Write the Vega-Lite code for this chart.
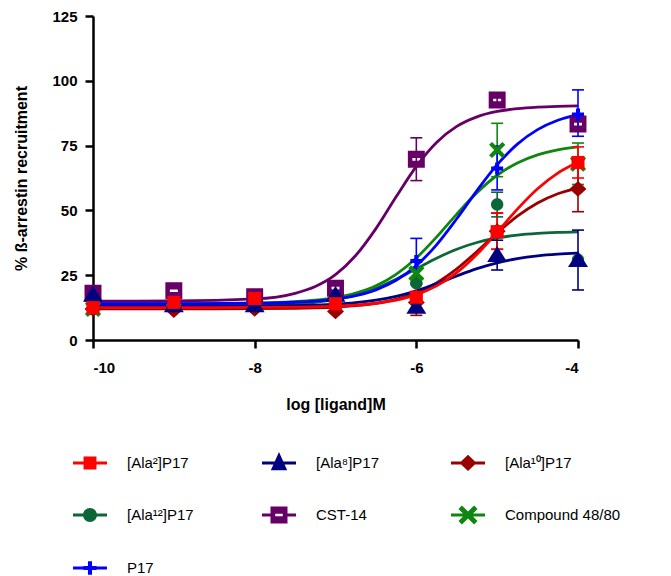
{
  "$schema": "https://vega.github.io/schema/vega-lite/v6.json",
  "width": 485,
  "height": 324,
  "autosize": "none",
  "padding": {"left": 93, "top": 16, "right": 93, "bottom": 236},
  "background": "white",
  "datasets": {
    "curves": [
      {"s": "[Ala¹²]P17", "x": -10, "y": 13.0}, {"s": "[Ala¹²]P17", "x": -9, "y": 13.03}, {"s": "[Ala¹²]P17", "x": -8, "y": 13.29}, {"s": "[Ala¹²]P17", "x": -7.5, "y": 13.89}, {"s": "[Ala¹²]P17", "x": -7.25, "y": 14.54}, {"s": "[Ala¹²]P17", "x": -7, "y": 15.64}, {"s": "[Ala¹²]P17", "x": -6.75, "y": 17.38}, {"s": "[Ala¹²]P17", "x": -6.5, "y": 19.97}, {"s": "[Ala¹²]P17", "x": -6.25, "y": 23.44}, {"s": "[Ala¹²]P17", "x": -6, "y": 27.5}, {"s": "[Ala¹²]P17", "x": -5.75, "y": 31.56}, {"s": "[Ala¹²]P17", "x": -5.5, "y": 35.03}, {"s": "[Ala¹²]P17", "x": -5.25, "y": 37.62}, {"s": "[Ala¹²]P17", "x": -5, "y": 39.36}, {"s": "[Ala¹²]P17", "x": -4.75, "y": 40.46}, {"s": "[Ala¹²]P17", "x": -4.5, "y": 41.11}, {"s": "[Ala¹²]P17", "x": -4.25, "y": 41.49}, {"s": "[Ala¹²]P17", "x": -4, "y": 41.71},
      {"s": "Compound 48/80", "x": -10, "y": 14.0}, {"s": "Compound 48/80", "x": -9, "y": 14.02}, {"s": "Compound 48/80", "x": -8, "y": 14.25}, {"s": "Compound 48/80", "x": -7.5, "y": 14.77}, {"s": "Compound 48/80", "x": -7.25, "y": 15.36}, {"s": "Compound 48/80", "x": -7, "y": 16.37}, {"s": "Compound 48/80", "x": -6.75, "y": 18.1}, {"s": "Compound 48/80", "x": -6.5, "y": 20.93}, {"s": "Compound 48/80", "x": -6.25, "y": 25.34}, {"s": "Compound 48/80", "x": -6, "y": 31.65}, {"s": "Compound 48/80", "x": -5.75, "y": 39.69}, {"s": "Compound 48/80", "x": -5.5, "y": 48.56}, {"s": "Compound 48/80", "x": -5.25, "y": 56.86}, {"s": "Compound 48/80", "x": -5, "y": 63.56}, {"s": "Compound 48/80", "x": -4.75, "y": 68.32}, {"s": "Compound 48/80", "x": -4.5, "y": 71.44}, {"s": "Compound 48/80", "x": -4.25, "y": 73.35}, {"s": "Compound 48/80", "x": -4, "y": 74.48},
      {"s": "CST-14", "x": -10, "y": 15.0}, {"s": "CST-14", "x": -9, "y": 15.06}, {"s": "CST-14", "x": -8, "y": 15.83}, {"s": "CST-14", "x": -7.5, "y": 18.02}, {"s": "CST-14", "x": -7.25, "y": 20.65}, {"s": "CST-14", "x": -7, "y": 25.23}, {"s": "CST-14", "x": -6.75, "y": 32.59}, {"s": "CST-14", "x": -6.5, "y": 42.98}, {"s": "CST-14", "x": -6.25, "y": 55.24}, {"s": "CST-14", "x": -6, "y": 67.0}, {"s": "CST-14", "x": -5.75, "y": 76.23}, {"s": "CST-14", "x": -5.5, "y": 82.4}, {"s": "CST-14", "x": -5.25, "y": 86.09}, {"s": "CST-14", "x": -5, "y": 88.16}, {"s": "CST-14", "x": -4.75, "y": 89.27}, {"s": "CST-14", "x": -4.5, "y": 89.86}, {"s": "CST-14", "x": -4.25, "y": 90.17}, {"s": "CST-14", "x": -4, "y": 90.33},
      {"s": "P17", "x": -10, "y": 14.0}, {"s": "P17", "x": -9, "y": 14.02}, {"s": "P17", "x": -8, "y": 14.18}, {"s": "P17", "x": -7.5, "y": 14.57}, {"s": "P17", "x": -7.25, "y": 15.01}, {"s": "P17", "x": -7, "y": 15.78}, {"s": "P17", "x": -6.75, "y": 17.11}, {"s": "P17", "x": -6.5, "y": 19.36}, {"s": "P17", "x": -6.25, "y": 23.03}, {"s": "P17", "x": -6, "y": 28.7}, {"s": "P17", "x": -5.75, "y": 36.73}, {"s": "P17", "x": -5.5, "y": 46.79}, {"s": "P17", "x": -5.25, "y": 57.65}, {"s": "P17", "x": -5, "y": 67.64}, {"s": "P17", "x": -4.75, "y": 75.57}, {"s": "P17", "x": -4.5, "y": 81.15}, {"s": "P17", "x": -4.25, "y": 84.76}, {"s": "P17", "x": -4, "y": 86.96},
      {"s": "[Ala¹⁰]P17", "x": -10, "y": 12.0}, {"s": "[Ala¹⁰]P17", "x": -9, "y": 12.01}, {"s": "[Ala¹⁰]P17", "x": -8, "y": 12.07}, {"s": "[Ala¹⁰]P17", "x": -7.5, "y": 12.22}, {"s": "[Ala¹⁰]P17", "x": -7.25, "y": 12.39}, {"s": "[Ala¹⁰]P17", "x": -7, "y": 12.7}, {"s": "[Ala¹⁰]P17", "x": -6.75, "y": 13.23}, {"s": "[Ala¹⁰]P17", "x": -6.5, "y": 14.14}, {"s": "[Ala¹⁰]P17", "x": -6.25, "y": 15.68}, {"s": "[Ala¹⁰]P17", "x": -6, "y": 18.19}, {"s": "[Ala¹⁰]P17", "x": -5.75, "y": 22.04}, {"s": "[Ala¹⁰]P17", "x": -5.5, "y": 27.44}, {"s": "[Ala¹⁰]P17", "x": -5.25, "y": 34.13}, {"s": "[Ala¹⁰]P17", "x": -5, "y": 41.27}, {"s": "[Ala¹⁰]P17", "x": -4.75, "y": 47.76}, {"s": "[Ala¹⁰]P17", "x": -4.5, "y": 52.85}, {"s": "[Ala¹⁰]P17", "x": -4.25, "y": 56.41}, {"s": "[Ala¹⁰]P17", "x": -4, "y": 58.69},
      {"s": "[Ala⁸]P17", "x": -10, "y": 13.0}, {"s": "[Ala⁸]P17", "x": -9, "y": 13.01}, {"s": "[Ala⁸]P17", "x": -8, "y": 13.08}, {"s": "[Ala⁸]P17", "x": -7.5, "y": 13.26}, {"s": "[Ala⁸]P17", "x": -7.25, "y": 13.46}, {"s": "[Ala⁸]P17", "x": -7, "y": 13.8}, {"s": "[Ala⁸]P17", "x": -6.75, "y": 14.39}, {"s": "[Ala⁸]P17", "x": -6.5, "y": 15.35}, {"s": "[Ala⁸]P17", "x": -6.25, "y": 16.84}, {"s": "[Ala⁸]P17", "x": -6, "y": 18.98}, {"s": "[Ala⁸]P17", "x": -5.75, "y": 21.7}, {"s": "[Ala⁸]P17", "x": -5.5, "y": 24.7}, {"s": "[Ala⁸]P17", "x": -5.25, "y": 27.52}, {"s": "[Ala⁸]P17", "x": -5, "y": 29.78}, {"s": "[Ala⁸]P17", "x": -4.75, "y": 31.4}, {"s": "[Ala⁸]P17", "x": -4.5, "y": 32.46}, {"s": "[Ala⁸]P17", "x": -4.25, "y": 33.1}, {"s": "[Ala⁸]P17", "x": -4, "y": 33.49},
      {"s": "[Ala²]P17", "x": -10, "y": 12.5}, {"s": "[Ala²]P17", "x": -9, "y": 12.51}, {"s": "[Ala²]P17", "x": -8, "y": 12.55}, {"s": "[Ala²]P17", "x": -7.5, "y": 12.67}, {"s": "[Ala²]P17", "x": -7.25, "y": 12.8}, {"s": "[Ala²]P17", "x": -7, "y": 13.04}, {"s": "[Ala²]P17", "x": -6.75, "y": 13.45}, {"s": "[Ala²]P17", "x": -6.5, "y": 14.18}, {"s": "[Ala²]P17", "x": -6.25, "y": 15.42}, {"s": "[Ala²]P17", "x": -6, "y": 17.51}, {"s": "[Ala²]P17", "x": -5.75, "y": 20.88}, {"s": "[Ala²]P17", "x": -5.5, "y": 26.0}, {"s": "[Ala²]P17", "x": -5.25, "y": 33.05}, {"s": "[Ala²]P17", "x": -5, "y": 41.6}, {"s": "[Ala²]P17", "x": -4.75, "y": 50.48}, {"s": "[Ala²]P17", "x": -4.5, "y": 58.35}, {"s": "[Ala²]P17", "x": -4.25, "y": 64.4}, {"s": "[Ala²]P17", "x": -4, "y": 68.56}
    ],
    "points": [
      {"s": "[Ala¹²]P17", "x": -10, "y": 12}, {"s": "[Ala¹²]P17", "x": -9, "y": 14}, {"s": "[Ala¹²]P17", "x": -8, "y": 13}, {"s": "[Ala¹²]P17", "x": -7, "y": 14}, {"s": "[Ala¹²]P17", "x": -6, "y": 21.9}, {"s": "[Ala¹²]P17", "x": -5, "y": 52.3, "lo": 47.5, "hi": 57}, {"s": "[Ala¹²]P17", "x": -4, "y": 31},
      {"s": "Compound 48/80", "x": -10, "y": 12}, {"s": "Compound 48/80", "x": -9, "y": 15.5}, {"s": "Compound 48/80", "x": -8, "y": 14}, {"s": "Compound 48/80", "x": -7, "y": 17}, {"s": "Compound 48/80", "x": -6, "y": 25.7}, {"s": "Compound 48/80", "x": -5, "y": 73.3, "lo": 63, "hi": 83.6}, {"s": "Compound 48/80", "x": -4, "y": 68, "lo": 60, "hi": 76},
      {"s": "CST-14", "x": -10, "y": 18}, {"s": "CST-14", "x": -9, "y": 19}, {"s": "CST-14", "x": -8, "y": 16.7}, {"s": "CST-14", "x": -7, "y": 20}, {"s": "CST-14", "x": -6, "y": 69.7, "lo": 61.5, "hi": 78}, {"s": "CST-14", "x": -5, "y": 92.6, "lo": 91, "hi": 94}, {"s": "CST-14", "x": -4, "y": 83.3, "lo": 81, "hi": 85.5},
      {"s": "P17", "x": -10, "y": 13.5}, {"s": "P17", "x": -9, "y": 14.5}, {"s": "P17", "x": -8, "y": 14}, {"s": "P17", "x": -7, "y": 16, "lo": 10.5, "hi": 18}, {"s": "P17", "x": -6, "y": 30.5, "lo": 21.5, "hi": 39.2}, {"s": "P17", "x": -5, "y": 66.2, "lo": 57.9, "hi": 74.8}, {"s": "P17", "x": -4, "y": 87, "lo": 78.6, "hi": 96.5},
      {"s": "[Ala¹⁰]P17", "x": -10, "y": 12}, {"s": "[Ala¹⁰]P17", "x": -9, "y": 11.5}, {"s": "[Ala¹⁰]P17", "x": -8, "y": 12}, {"s": "[Ala¹⁰]P17", "x": -7, "y": 11}, {"s": "[Ala¹⁰]P17", "x": -6, "y": 14.5, "lo": 9.5, "hi": 18}, {"s": "[Ala¹⁰]P17", "x": -5, "y": 42, "lo": 35, "hi": 49}, {"s": "[Ala¹⁰]P17", "x": -4, "y": 58.3, "lo": 49.5, "hi": 67.3},
      {"s": "[Ala⁸]P17", "x": -10, "y": 17.5}, {"s": "[Ala⁸]P17", "x": -9, "y": 13.5}, {"s": "[Ala⁸]P17", "x": -8, "y": 13.5}, {"s": "[Ala⁸]P17", "x": -7, "y": 17.5}, {"s": "[Ala⁸]P17", "x": -6, "y": 12.9}, {"s": "[Ala⁸]P17", "x": -5, "y": 32.8, "lo": 27, "hi": 38.5}, {"s": "[Ala⁸]P17", "x": -4, "y": 30.9, "lo": 19.3, "hi": 42.4},
      {"s": "[Ala²]P17", "x": -10, "y": 12.5}, {"s": "[Ala²]P17", "x": -9, "y": 14.5}, {"s": "[Ala²]P17", "x": -8, "y": 16}, {"s": "[Ala²]P17", "x": -7, "y": 14}, {"s": "[Ala²]P17", "x": -6, "y": 16.5, "lo": 11, "hi": 22}, {"s": "[Ala²]P17", "x": -5, "y": 41.8, "lo": 35, "hi": 48.9}, {"s": "[Ala²]P17", "x": -4, "y": 68.5, "lo": 62.5, "hi": 74.5}
    ]
  },
  "encoding": {
    "x": {
      "field": "x",
      "type": "quantitative",
      "scale": {"domain": [-10, -4], "nice": false, "zero": false},
      "axis": {
        "title": "log [ligand]M",
        "values": [-10, -8, -6, -4],
        "labelExpr": "'' + datum.value",
        "labelPadding": 12,
        "titlePadding": 21
      }
    },
    "y": {
      "field": "y",
      "type": "quantitative",
      "scale": {"domain": [0, 125], "nice": false, "zero": true},
      "axis": {
        "title": "% ß-arrestin recruitment",
        "values": [0, 25, 50, 75, 100, 125],
        "labelPadding": 8,
        "titlePadding": 22
      }
    }
  },
  "layer": [
    {
      "data": {"name": "curves"},
      "mark": {"type": "line", "interpolate": "monotone", "strokeWidth": 2.8},
      "encoding": {
        "color": {
          "field": "s",
          "type": "nominal",
          "scale": {
            "domain": ["[Ala²]P17", "[Ala⁸]P17", "[Ala¹⁰]P17", "[Ala¹²]P17", "CST-14", "Compound 48/80", "P17"],
            "range": ["#ff0000", "#000080", "#990000", "#0b6638", "#660066", "#0f860f", "#0000ff"]
          },
          "legend": null
        }
      }
    },
    {
      "data": {"name": "points"},
      "transform": [{"filter": "isValid(datum.lo)"}],
      "mark": {"type": "rule", "strokeWidth": 1.6},
      "encoding": {
        "y": {"field": "lo", "type": "quantitative"},
        "y2": {"field": "hi"},
        "color": {"field": "s", "type": "nominal", "legend": null}
      }
    },
    {
      "data": {"name": "points"},
      "transform": [{"filter": "isValid(datum.lo)"}],
      "mark": {"type": "tick", "orient": "horizontal", "size": 12, "thickness": 1.6, "opacity": 1},
      "encoding": {
        "y": {"field": "lo", "type": "quantitative"},
        "color": {"field": "s", "type": "nominal", "legend": null}
      }
    },
    {
      "data": {"name": "points"},
      "transform": [{"filter": "isValid(datum.hi)"}],
      "mark": {"type": "tick", "orient": "horizontal", "size": 12, "thickness": 1.6, "opacity": 1},
      "encoding": {
        "y": {"field": "hi", "type": "quantitative"},
        "color": {"field": "s", "type": "nominal", "legend": null}
      }
    },
    {
      "data": {"name": "points"},
      "mark": {"type": "point", "filled": true, "size": 225, "opacity": 1, "strokeWidth": 0},
      "encoding": {
        "color": {"field": "s", "type": "nominal", "legend": null},
        "shape": {
          "field": "s",
          "type": "nominal",
          "scale": {
            "domain": ["[Ala²]P17", "[Ala⁸]P17", "[Ala¹⁰]P17", "[Ala¹²]P17", "CST-14", "Compound 48/80", "P17"],
            "range": [
              "M-0.87,-0.87H0.87V0.87H-0.87Z",
              "M0,-1.2L1.33,0.95H-1.33Z",
              "M0,-1.05L1.13,0L0,1.05L-1.13,0Z",
              "M-0.82,0A0.82,0.82 0 1,1 0.82,0A0.82,0.82 0 1,1 -0.82,0Z",
              "M-1.13,-1.13H1.13V1.13H-1.13Z M-0.53,-0.18V0.18H0.53V-0.18Z",
              "M1.08,-0.69L0.4,0L1.08,0.69L0.69,1.08L0,0.4L-0.69,1.08L-1.08,0.69L-0.4,0L-1.08,-0.69L-0.69,-1.08L0,-0.4L0.69,-1.08Z",
              "M-0.27,-0.8H0.27V-0.27H0.8V0.27H0.27V0.8H-0.27V0.27H-0.8V-0.27H-0.27Z"
            ]
          },
          "legend": null
        }
      }
    },
    {
      "data": {"name": "points"},
      "transform": [{"filter": "datum.x > 1000"}],
      "mark": {"type": "point", "filled": true, "size": 1156, "opacity": 1, "strokeWidth": 0},
      "encoding": {
        "fill": {
          "field": "s",
          "type": "nominal",
          "scale": {
            "domain": ["[Ala²]P17", "[Ala⁸]P17", "[Ala¹⁰]P17", "[Ala¹²]P17", "CST-14", "Compound 48/80", "P17"],
            "range": ["#ff0000", "#000080", "#990000", "#0b6638", "#660066", "#0f860f", "#0000ff"]
          },
          "legend": {
            "title": null,
            "orient": "none",
            "direction": "horizontal",
            "legendX": -20,
            "legendY": 429,
            "columns": 3,
            "gridAlign": "all",
            "columnPadding": 19,
            "rowPadding": 26,
            "labelOffset": 20,
            "symbolSize": 1156,
            "symbolStrokeWidth": 0,
            "labelFontSize": 15,
            "labelFont": "Liberation Sans",
            "labelColor": "black",
            "padding": 0
          }
        },
        "shape": {
          "field": "s",
          "type": "nominal",
          "scale": {
            "domain": ["[Ala²]P17", "[Ala⁸]P17", "[Ala¹⁰]P17", "[Ala¹²]P17", "CST-14", "Compound 48/80", "P17"],
            "range": [
              "M-1,-0.09H1V0.09H-1Z M-0.38,-0.38H0.38V0.38H-0.38Z",
              "M-1,-0.09H1V0.09H-1Z M0,-0.65L0.48,0.43H-0.48Z",
              "M-1,-0.09H1V0.09H-1Z M0,-0.48L0.5,0L0,0.48L-0.5,0Z",
              "M-1,-0.09H1V0.09H-1Z M-0.41,0A0.41,0.41 0 1,1 0.41,0A0.41,0.41 0 1,1 -0.41,0Z",
              "M-1,-0.09H-0.5V0.09H-1Z M0.5,-0.09H1V0.09H0.5Z M-0.5,-0.5H0.5V0.5H-0.5Z M-0.22,-0.07V0.07H0.22V-0.07Z",
              "M-1,-0.09H1V0.09H-1Z M0.56,-0.36L0.21,0L0.56,0.36L0.36,0.56L0,0.21L-0.36,0.56L-0.56,0.36L-0.21,0L-0.56,-0.36L-0.36,-0.56L0,-0.21L0.36,-0.56Z",
              "M-1,-0.09H1V0.09H-1Z M-0.12,-0.39H0.12V-0.12H0.39V0.12H0.12V0.39H-0.12V0.12H-0.39V-0.12H-0.12Z"
            ]
          },
          "legend": {
            "title": null,
            "orient": "none",
            "direction": "horizontal",
            "legendX": -20,
            "legendY": 429,
            "columns": 3,
            "gridAlign": "all",
            "columnPadding": 19,
            "rowPadding": 26,
            "labelOffset": 20,
            "symbolSize": 1156,
            "symbolStrokeWidth": 0,
            "labelFontSize": 15,
            "labelFont": "Liberation Sans",
            "labelColor": "black",
            "padding": 0
          }
        }
      }
    }
  ],
  "resolve": {
    "scale": {"shape": "independent", "fill": "independent"},
    "legend": {"shape": "independent", "fill": "independent"}
  },
  "config": {
    "view": {"stroke": null},
    "font": "Liberation Sans",
    "axis": {
      "grid": false,
      "domainColor": "black",
      "domainWidth": 2.5,
      "tickColor": "black",
      "tickWidth": 2.5,
      "tickSize": 8,
      "labelColor": "black",
      "titleColor": "black",
      "labelFont": "Liberation Sans",
      "titleFont": "Liberation Sans",
      "labelFontWeight": "bold",
      "titleFontWeight": "bold",
      "labelFontSize": 15,
      "titleFontSize": 16
    }
  }
}
